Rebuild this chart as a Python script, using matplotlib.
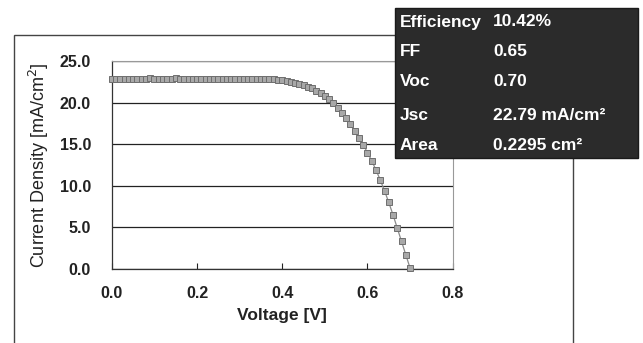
import matplotlib.pyplot as plt
from matplotlib.patches import Rectangle

plt.rcParams['font.family'] = ['Liberation Sans', 'DejaVu Sans']

# J-V curve
voltage = [0.00, 0.01, 0.02, 0.03, 0.04, 0.05, 0.06, 0.07, 0.08, 0.09,
           0.10, 0.11, 0.12, 0.13, 0.14, 0.15, 0.16, 0.17, 0.18, 0.19,
           0.20, 0.21, 0.22, 0.23, 0.24, 0.25, 0.26, 0.27, 0.28, 0.29,
           0.30, 0.31, 0.32, 0.33, 0.34, 0.35, 0.36, 0.37, 0.38, 0.39,
           0.40, 0.41, 0.42, 0.43, 0.44, 0.45, 0.46, 0.47, 0.48, 0.49,
           0.50, 0.51, 0.52, 0.53, 0.54, 0.55, 0.56, 0.57, 0.58, 0.59,
           0.60, 0.61, 0.62, 0.63, 0.64, 0.65, 0.66, 0.67, 0.68, 0.69,
           0.70]
current = [22.9, 22.9, 22.9, 22.8, 22.9, 22.9, 22.9, 22.8, 22.9, 23.0,
           22.9, 22.8, 22.9, 22.8, 22.9, 23.0, 22.9, 22.8, 22.9, 22.9,
           22.9, 22.9, 22.9, 22.8, 22.9, 22.9, 22.9, 22.9, 22.9, 22.9,
           22.9, 22.9, 22.9, 22.8, 22.8, 22.8, 22.8, 22.8, 22.8, 22.7,
           22.7, 22.6, 22.5, 22.4, 22.3, 22.1, 21.9, 21.7, 21.4, 21.1,
           20.8, 20.4, 19.9, 19.4, 18.8, 18.1, 17.4, 16.6, 15.7, 14.9,
           14.0, 13.0, 11.9, 10.7, 9.4, 8.0, 6.5, 4.9, 3.3, 1.7,
           0.1]

yticks = [0, 5, 10, 15, 20, 25]
xticks = [0.0, 0.2, 0.4, 0.6, 0.8]

# summary box
box_labels = ['Efficiency', 'FF', 'Voc', 'Jsc', 'Area']
box_values = ['10.42%', '0.65', '0.70', '22.79 mA/cm\u00b2', '0.2295 cm\u00b2']

fig = plt.figure(figsize=(6.43, 3.43), dpi=100)
ax = fig.add_axes([0.174, 0.216, 0.530, 0.606])

# outer chart frame
fig.patches.append(Rectangle((0.022, -0.05), 0.869, 0.948, transform=fig.transFigure,
                             fill=False, edgecolor='#444444', linewidth=1.0, zorder=0))

ax.plot(voltage, current, color='#8a8a8a', linewidth=0.9, marker='s', markersize=4,
        markerfacecolor='#a8a8a8', markeredgecolor='#6e6e6e', markeredgewidth=0.7,
        clip_on=False, zorder=3)

ax.set_xlim(0, 0.8)
ax.set_ylim(0, 25)
ax.set_xticks(xticks)
ax.set_yticks(yticks)
ax.set_xticklabels([f'{t:.1f}' for t in xticks])
ax.set_yticklabels([f'{t:.1f}' for t in yticks])
ax.tick_params(axis='x', direction='in', length=4, pad=12, labelsize=11.5, colors='#222222')
ax.tick_params(axis='y', length=0, pad=15, labelsize=11.5, colors='#222222')
for lab in ax.get_xticklabels() + ax.get_yticklabels():
    lab.set_fontweight('bold')

ax.grid(axis='y', color='#222222', linewidth=0.9)
for side in ['top', 'right']:
    ax.spines[side].set_color('#999999')
    ax.spines[side].set_linewidth(0.8)
for side in ['left', 'bottom']:
    ax.spines[side].set_color('#333333')
    ax.spines[side].set_linewidth(0.9)

ax.set_xlabel('Voltage [V]', fontsize=12.5, fontweight='bold', color='#222222', labelpad=5)
ax.set_ylabel('Current Density [mA/cm$^2$]', fontsize=13, color='#222222', labelpad=6)

# dark results box
fig.patches.append(Rectangle((395 / 643, 1 - 158 / 343), 243 / 643, 150 / 343,
                             transform=fig.transFigure, facecolor='#2b2b2b',
                             edgecolor='#1a1a1a', zorder=5))
row_y = [22, 52, 82, 115, 146]
for lab, val, y in zip(box_labels, box_values, row_y):
    fig.text(400 / 643, 1 - y / 343, lab, color='white', fontsize=12.5, fontweight='bold',
             va='center', ha='left', zorder=6)
    fig.text(493 / 643, 1 - y / 343, val, color='white', fontsize=12.5, fontweight='bold',
             va='center', ha='left', zorder=6)

fig.savefig('out.png', dpi=100)
